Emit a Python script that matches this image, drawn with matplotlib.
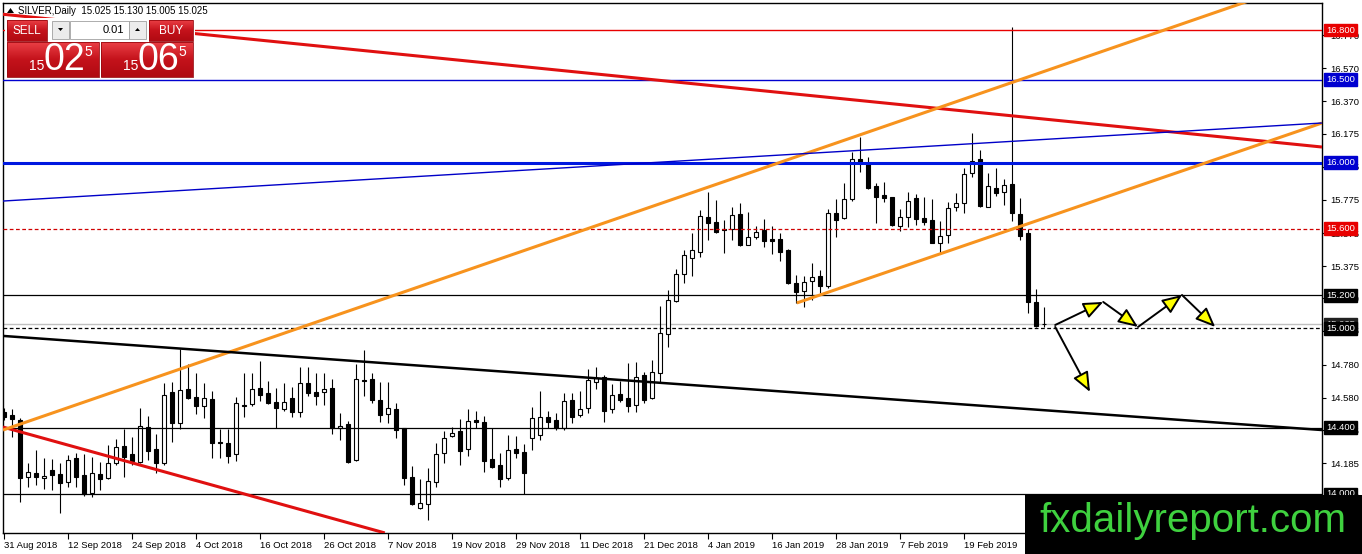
import matplotlib
matplotlib.use("Agg")
import matplotlib.pyplot as plt
from matplotlib.patches import Rectangle, Polygon, FancyArrowPatch
from matplotlib.colors import LinearSegmentedColormap
import numpy as np

plt.rcParams['font.family'] = ['Liberation Sans', 'DejaVu Sans']

# daily candles, SILVER (bar 0 = 31 Aug 2018)
opens = [14.495, 14.477, 14.447, 14.103, 14.127, 14.097, 14.145, 14.121, 14.072, 14.217,
         14.115, 14.006, 14.121, 14.097, 14.187, 14.290, 14.241, 14.193, 14.404, 14.272,
         14.187, 14.616, 14.428, 14.634, 14.585, 14.531, 14.573, 14.314, 14.308, 14.241,
         14.537, 14.543, 14.640, 14.610, 14.555, 14.513, 14.579, 14.495, 14.670, 14.616,
         14.616, 14.640, 14.398, 14.422, 14.205, 14.688, 14.694, 14.567, 14.483, 14.513,
         14.398, 14.103, 13.916, 13.940, 14.072, 14.247, 14.350, 14.380, 14.272, 14.447,
         14.435, 14.211, 14.175, 14.097, 14.272, 14.253, 14.338, 14.356, 14.465, 14.447,
         14.398, 14.567, 14.477, 14.519, 14.676, 14.706, 14.513, 14.604, 14.579, 14.537,
         14.718, 14.579, 14.730, 14.966, 15.165, 15.328, 15.424, 15.460, 15.672, 15.642,
         15.599, 15.599, 15.690, 15.503, 15.551, 15.593, 15.539, 15.539, 15.473, 15.273,
         15.225, 15.285, 15.316, 15.255, 15.696, 15.666, 15.780, 16.022, 15.998, 15.859,
         15.804, 15.792, 15.617, 15.672, 15.786, 15.666, 15.654, 15.515, 15.563, 15.732,
         15.756, 15.937, 16.022, 15.732, 15.847, 15.823, 15.871, 15.690, 15.575, 15.159,
         15.025]
highs = [14.519, 14.513, 14.459, 14.187, 14.266, 14.217, 14.211, 14.187, 14.235, 14.247,
         14.241, 14.223, 14.193, 14.296, 14.332, 14.392, 14.344, 14.519, 14.471, 14.362,
         14.670, 14.676, 14.875, 14.785, 14.730, 14.670, 14.622, 14.392, 14.392, 14.585,
         14.730, 14.730, 14.803, 14.682, 14.640, 14.670, 14.646, 14.766, 14.766, 14.730,
         14.730, 14.694, 14.489, 14.441, 14.785, 14.869, 14.730, 14.676, 14.676, 14.549,
         14.398, 14.169, 14.091, 14.157, 14.308, 14.380, 14.404, 14.453, 14.513, 14.501,
         14.471, 14.398, 14.247, 14.356, 14.350, 14.302, 14.525, 14.622, 14.501, 14.489,
         14.610, 14.610, 14.622, 14.754, 14.766, 14.718, 14.664, 14.682, 14.791, 14.797,
         14.736, 14.809, 15.135, 15.231, 15.358, 15.473, 15.575, 15.714, 15.823, 15.774,
         15.654, 15.732, 15.756, 15.702, 15.617, 15.660, 15.617, 15.575, 15.479, 15.322,
         15.316, 15.394, 15.352, 15.720, 15.780, 15.877, 16.064, 16.155, 16.034, 15.877,
         15.883, 15.792, 15.720, 15.823, 15.810, 15.792, 15.780, 15.648, 15.762, 15.817,
         15.967, 16.179, 16.076, 15.937, 15.967, 15.901, 16.818, 15.786, 15.599, 15.237,
         15.130]
lows = [14.447, 14.344, 13.952, 14.042, 14.054, 14.030, 14.024, 13.885, 14.042, 14.042,
        13.990, 13.982, 14.024, 14.091, 14.175, 14.103, 14.175, 14.190, 14.205, 14.127,
        14.175, 14.314, 14.392, 14.573, 14.483, 14.459, 14.217, 14.217, 14.187, 14.199,
        14.465, 14.531, 14.561, 14.543, 14.398, 14.501, 14.465, 14.465, 14.591, 14.537,
        14.537, 14.362, 14.326, 14.187, 14.199, 14.591, 14.549, 14.435, 14.428, 14.338,
        14.054, 13.934, 13.909, 13.843, 14.042, 14.187, 14.344, 14.175, 14.229, 14.398,
        14.133, 14.157, 14.042, 14.084, 14.217, 14.000, 14.266, 14.326, 14.398, 14.386,
        14.386, 14.428, 14.465, 14.489, 14.634, 14.435, 14.489, 14.555, 14.495, 14.495,
        14.549, 14.573, 14.676, 14.887, 15.159, 15.273, 15.316, 15.430, 15.533, 15.575,
        15.454, 15.533, 15.497, 15.500, 15.539, 15.491, 15.448, 15.406, 15.270, 15.153,
        15.129, 15.171, 15.213, 15.243, 15.551, 15.660, 15.768, 15.943, 15.841, 15.636,
        15.762, 15.617, 15.587, 15.611, 15.623, 15.623, 15.515, 15.448, 15.515, 15.708,
        15.696, 15.913, 15.732, 15.732, 15.798, 15.744, 15.648, 15.533, 15.092, 15.008,
        15.005]
closes = [14.465, 14.453, 14.097, 14.133, 14.103, 14.109, 14.115, 14.066, 14.205, 14.103,
          14.000, 14.127, 14.091, 14.187, 14.284, 14.223, 14.199, 14.410, 14.260, 14.187,
          14.597, 14.428, 14.628, 14.579, 14.531, 14.579, 14.308, 14.308, 14.229, 14.549,
          14.531, 14.634, 14.597, 14.549, 14.519, 14.555, 14.495, 14.670, 14.610, 14.591,
          14.634, 14.398, 14.410, 14.193, 14.694, 14.682, 14.567, 14.477, 14.519, 14.386,
          14.097, 13.940, 13.946, 14.078, 14.241, 14.338, 14.368, 14.260, 14.441, 14.435,
          14.199, 14.163, 14.091, 14.266, 14.247, 14.127, 14.459, 14.465, 14.435, 14.398,
          14.561, 14.465, 14.513, 14.688, 14.700, 14.501, 14.597, 14.567, 14.531, 14.706,
          14.567, 14.736, 14.972, 15.171, 15.328, 15.442, 15.473, 15.678, 15.636, 15.581,
          15.593, 15.684, 15.503, 15.551, 15.581, 15.527, 15.527, 15.460, 15.273, 15.219,
          15.279, 15.310, 15.255, 15.696, 15.654, 15.780, 16.022, 15.998, 15.847, 15.792,
          15.786, 15.623, 15.672, 15.768, 15.660, 15.642, 15.515, 15.557, 15.726, 15.756,
          15.931, 16.010, 15.738, 15.859, 15.817, 15.865, 15.696, 15.557, 15.159, 15.014,
          15.025]

date_labels = ["31 Aug 2018", "12 Sep 2018", "24 Sep 2018", "4 Oct 2018", "16 Oct 2018",
               "26 Oct 2018", "7 Nov 2018", "19 Nov 2018", "29 Nov 2018", "11 Dec 2018",
               "21 Dec 2018", "4 Jan 2019", "16 Jan 2019", "28 Jan 2019", "7 Feb 2019",
               "19 Feb 2019"]
date_bars = [0, 8, 16, 24, 32, 40, 48, 56, 64, 72, 80, 88, 96, 104, 112, 120]

price_ticks = [16.770, 16.570, 16.370, 16.175, 15.975, 15.775, 15.575, 15.375,
               15.180, 14.985, 14.780, 14.580, 14.385, 14.185, 13.985]

# horizontal levels: (price, colour, width, style)
levels = [(16.8, '#e80000', 1.0, '-'), (16.5, '#0000d0', 1.0, '-'),
          (16.0, '#0018e0', 2.2, '-'), (15.6, '#d00000', 0.9, (0, (3, 2))),
          (15.2, 'black', 0.9, '-'), (15.0, 'black', 0.9, (0, (3, 2))),
          (14.4, 'black', 0.9, '-'), (14.0, 'black', 0.9, '-')]
level_boxes = [(16.8, '#e80000'), (16.5, '#0000d0'), (16.0, '#0000d0'),
               (15.6, '#e80000'), (15.025, '#202020'), (15.2, 'black'),
               (15.0, 'black'), (14.4, 'black'), (14.0, 'black')]
bid = 15.025

# trend lines: (bar0, price0, bar1, price1, colour, width)
trend_lines = [(-0.5, 16.897, 164.75, 16.094, '#e01010', 2.2),
               (-0.125, 14.404, 47.6, 13.765, '#e01010', 2.2),
               (-0.125, 14.386, 164.75, 17.128, '#f7931e', 2.2),
               (99.1, 15.153, 164.75, 16.239, '#f7931e', 2.2),
               (-0.125, 15.768, 164.75, 16.239, '#0000c8', 1.0),
               (-0.125, 14.954, 164.75, 14.386, 'black', 1.8)]

# projected path arrows: (bar0, price0, bar1, price1)
arrows = [(131.4, 15.020, 137.4, 15.159),
          (137.4, 15.159, 141.75, 15.008),
          (141.75, 15.008, 147.25, 15.201),
          (147.25, 15.201, 151.4, 15.008),
          (131.4, 15.008, 135.75, 14.616)]

W, H = 1362, 554
fig = plt.figure(figsize=(W / 100, H / 100), dpi=100)
ax = fig.add_axes([3 / W, 21 / H, 1319 / W, 530 / H])
ax.set_xlim(-0.125, 164.75)
ax.set_ylim(13.7646, 16.9632)

x = np.arange(len(opens))
o = np.array(opens)
c = np.array(closes)
ax.vlines(x, lows, highs, color='black', lw=0.8, zorder=2)
up = c >= o
ax.bar(x[up], (c - o)[up], bottom=o[up], width=0.6, color='white',
       edgecolor='black', lw=0.8, zorder=2.2)
ax.bar(x[~up], (o - c)[~up], bottom=c[~up], width=0.6, color='black',
       edgecolor='black', lw=0.8, zorder=2.2)

ax.axhline(bid, color='#c0c0c0', lw=1.0, zorder=1.5)
for p, col, lw, ls in levels:
    ax.axhline(p, color=col, lw=lw, linestyle=ls, zorder=3)
for x0, y0, x1, y1, col, lw in trend_lines:
    ax.plot([x0, x1], [y0, y1], color=col, lw=lw, zorder=3, solid_capstyle='butt')

for x0, y0, x1, y1 in arrows:
    ax.add_patch(FancyArrowPatch((x0, y0), (x1, y1),
                                 arrowstyle='-|>,head_length=12,head_width=5',
                                 mutation_scale=1, facecolor='#ffff00',
                                 edgecolor='black', lw=1.4, shrinkA=0, shrinkB=0,
                                 zorder=4))

# axes
for s in ax.spines.values():
    s.set_color('black')
    s.set_linewidth(1.0)
ax.yaxis.tick_right()
ax.set_yticks(price_ticks)
ax.set_yticklabels(["%.3f" % v for v in price_ticks])
ax.tick_params(axis='y', direction='out', length=3, pad=3, labelsize=6.8)
ax.set_xticks(date_bars)
ax.set_xticklabels(date_labels)
for lbl in ax.get_xticklabels():
    lbl.set_horizontalalignment('left')
ax.tick_params(axis='x', direction='out', length=4, pad=2, labelsize=6.8)

for p, col in level_boxes:
    ax.text(1.0032, p, "%.3f" % p, transform=ax.get_yaxis_transform(),
            color='white', fontsize=6.8, va='center', ha='left', clip_on=False,
            bbox=dict(boxstyle='square,pad=0.2', fc=col, ec=col), zorder=5)

# overlay in pixel coordinates: trade panel, header, watermark
ov = fig.add_axes([0, 0, 1, 1], zorder=10)
ov.patch.set_alpha(0)
ov.axis('off')

red = LinearSegmentedColormap.from_list('r', ['#ea3f45', '#c4121b', '#b00a12'])
grad = np.linspace(0, 1, 64).reshape(-1, 1)


def red_box(x0, y0, w, h):
    ov.imshow(grad, cmap=red, extent=(x0, x0 + w, y0 + h, y0), aspect='auto',
              interpolation='bilinear', zorder=2)
    ov.add_patch(Rectangle((x0, y0), w, h, fill=False, ec='#9a0a10', lw=0.6,
                           zorder=2.5))


ov.add_patch(Rectangle((5, 18), 190, 59, fc='white', ec='none', zorder=1))
red_box(7, 20, 40, 21)
red_box(149, 20, 44, 21)
red_box(7, 42, 92, 35)
red_box(101, 42, 92, 35)
ov.add_patch(Rectangle((52, 21), 17, 18, fc='#ececec', ec='#a0a0a0', lw=0.6, zorder=2))
ov.add_patch(Rectangle((70, 21), 59, 18, fc='white', ec='#a0a0a0', lw=0.6, zorder=2))
ov.add_patch(Rectangle((129, 21), 17, 18, fc='#ececec', ec='#a0a0a0', lw=0.6, zorder=2))
ov.add_patch(Polygon([(58, 28), (63, 28), (60.5, 31)], closed=True, fc='black', zorder=3))
ov.add_patch(Polygon([(135, 31), (140, 31), (137.5, 28)], closed=True, fc='black', zorder=3))
ov.text(27, 31, "SELL", color='white', fontsize=8.5, ha='center', va='center', zorder=4)
ov.text(171, 31, "BUY", color='white', fontsize=8.5, ha='center', va='center', zorder=4)
ov.text(124, 30, "0.01", color='black', fontsize=8, ha='right', va='center', zorder=4)
for bx, big in [(7, "02"), (101, "06")]:
    ov.text(bx + 30, 66, "15", color='white', fontsize=10, ha='center', va='center', zorder=4)
    ov.text(bx + 57, 60, big, color='white', fontsize=27, ha='center', va='center', zorder=4)
    ov.text(bx + 81, 52, "5", color='white', fontsize=10, ha='center', va='center', zorder=4)

ov.add_patch(Polygon([(7, 13), (14, 13), (10.5, 8)], closed=True, fc='black'))
ov.text(18, 10.5, "SILVER,Daily  15.025 15.130 15.005 15.025", color='black',
        fontsize=7, ha='left', va='center')

ov.add_patch(Rectangle((1025, 495), 337, 59, fc='black', ec='none'))
ov.text(1193, 521, "fxdailyreport.com", color='#3fd13f', fontsize=29,
        ha='center', va='center')

ov.set_xlim(0, W)
ov.set_ylim(H, 0)

fig.savefig("out.png", dpi=100)
